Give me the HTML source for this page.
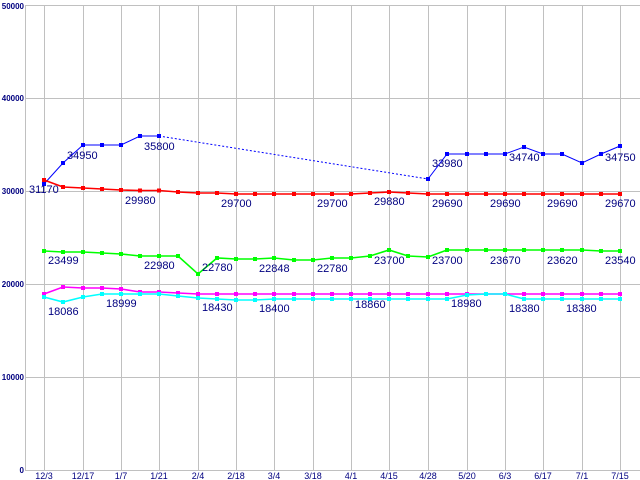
<!DOCTYPE html><html><head><style>body{margin:0;background:#fff}svg{display:block}text{font-family:"Liberation Sans",sans-serif}</style></head><body>
<svg width="640" height="480" xmlns="http://www.w3.org/2000/svg">
<defs>
<marker id="mr" markerUnits="userSpaceOnUse" markerWidth="6" markerHeight="6" refX="3" refY="3"><rect x="1" y="1" width="4" height="4" fill="#ff0000"/></marker>
<marker id="mg" markerUnits="userSpaceOnUse" markerWidth="6" markerHeight="6" refX="3" refY="3"><rect x="1" y="1" width="4" height="4" fill="#00ff00"/></marker>
<marker id="mm" markerUnits="userSpaceOnUse" markerWidth="6" markerHeight="6" refX="3" refY="3"><rect x="1" y="1" width="4" height="4" fill="#ff00ff"/></marker>
<marker id="mc" markerUnits="userSpaceOnUse" markerWidth="6" markerHeight="6" refX="3" refY="3"><rect x="1" y="1" width="4" height="4" fill="#00ffff"/></marker>
</defs>
<g stroke="#c0c0c0" stroke-width="1">
<line x1="26" y1="5.5" x2="640" y2="5.5"/><line x1="26" y1="98.5" x2="640" y2="98.5"/><line x1="26" y1="191.5" x2="640" y2="191.5"/><line x1="26" y1="284.5" x2="640" y2="284.5"/><line x1="26" y1="377.5" x2="640" y2="377.5"/>
<line x1="44.5" y1="5" x2="44.5" y2="471"/><line x1="83.5" y1="5" x2="83.5" y2="471"/><line x1="121.5" y1="5" x2="121.5" y2="471"/><line x1="159.5" y1="5" x2="159.5" y2="471"/><line x1="198.5" y1="5" x2="198.5" y2="471"/><line x1="236.5" y1="5" x2="236.5" y2="471"/><line x1="274.5" y1="5" x2="274.5" y2="471"/><line x1="313.5" y1="5" x2="313.5" y2="471"/><line x1="351.5" y1="5" x2="351.5" y2="471"/><line x1="389.5" y1="5" x2="389.5" y2="471"/><line x1="428.5" y1="5" x2="428.5" y2="471"/><line x1="467.5" y1="5" x2="467.5" y2="471"/><line x1="505.5" y1="5" x2="505.5" y2="471"/><line x1="543.5" y1="5" x2="543.5" y2="471"/><line x1="582.5" y1="5" x2="582.5" y2="471"/><line x1="620.5" y1="5" x2="620.5" y2="471"/>
<line x1="25.5" y1="5" x2="25.5" y2="471"/><line x1="25" y1="470.5" x2="640" y2="470.5"/>
</g>
<g font-size="8" font-weight="bold" fill="#000080" font-family="Liberation Mono,monospace" text-anchor="end">
<text x="24" y="9">50000</text><text x="24" y="101">40000</text><text x="24" y="194">30000</text><text x="24" y="287">20000</text><text x="24" y="380">10000</text><text x="24" y="473">0</text>
</g>
<g font-size="9" fill="#000080" text-anchor="middle">
<text x="44" y="479">12/3</text><text x="83" y="479">12/17</text><text x="121" y="479">1/7</text><text x="159" y="479">1/21</text><text x="198" y="479">2/4</text><text x="236" y="479">2/18</text><text x="274" y="479">3/4</text><text x="313" y="479">3/18</text><text x="351" y="479">4/1</text><text x="389" y="479">4/15</text><text x="428" y="479">4/28</text><text x="467" y="479">5/20</text><text x="505" y="479">6/3</text><text x="543" y="479">6/17</text><text x="582" y="479">7/1</text><text x="620" y="479">7/15</text>
</g>
<g fill="none" stroke-width="1">
<polyline stroke="#0000ff" points="44,184 63,163 83,145 102,145 121,145 140,136 159,136"/>
<polyline stroke="#0000ff" stroke-dasharray="2,2" points="159,136 428,179"/>
<polyline stroke="#0000ff" points="428,179 447,154 467,154 486,154 505,154 524,147 543,154 562,154 582,163 601,154 620,146"/>
</g>
<g fill="none" stroke-width="1.6">
<polyline stroke="#ff0000" marker-start="url(#mr)" marker-mid="url(#mr)" marker-end="url(#mr)" points="44,180 63,187 83,188 102,189 121,190 140,190.5 159,190.5 178,192 198,193 217,193 236,194 255,194 274,194 294,194 313,194 332,194 351,194 370,193 389,192 408,193 428,194 447,194 467,194 486,194 505,194 524,194 543,194 562,194 582,194 601,194 620,194"/>
<polyline stroke="#00ff00" marker-start="url(#mg)" marker-mid="url(#mg)" marker-end="url(#mg)" points="44,251 63,252 83,252 102,253 121,254 140,256 159,256 178,256 198,274 217,258 236,259 255,259 274,258 294,260 313,260 332,258 351,258 370,256 389,250 408,256 428,257 447,250 467,250 486,250 505,250 524,250 543,250 562,250 582,250 601,251 620,251"/>
<polyline stroke="#ff00ff" marker-start="url(#mm)" marker-mid="url(#mm)" marker-end="url(#mm)" points="44,294 63,287 83,288 102,288 121,289 140,292 159,292 178,293 198,294 217,294 236,294 255,294 274,294 294,294 313,294 332,294 351,294 370,294 389,294 408,294 428,294 447,294 467,294 486,294 505,294 524,294 543,294 562,294 582,294 601,294 620,294"/>
<polyline stroke="#00ffff" marker-start="url(#mc)" marker-mid="url(#mc)" marker-end="url(#mc)" points="44,297 63,302 83,297 102,294 121,294 140,294 159,294 178,296 198,298 217,299 236,300 255,300 274,299 294,299 313,299 332,299 351,299 370,299 389,299 408,299 428,299 447,299 467,295 486,294 505,294 524,299 543,299 562,299 582,299 601,299 620,299"/>
</g>
<g fill="#0000ff"><rect x="42" y="182" width="4" height="4"/><rect x="61" y="161" width="4" height="4"/><rect x="81" y="143" width="4" height="4"/><rect x="100" y="143" width="4" height="4"/><rect x="119" y="143" width="4" height="4"/><rect x="138" y="134" width="4" height="4"/><rect x="157" y="134" width="4" height="4"/><rect x="426" y="177" width="4" height="4"/><rect x="445" y="152" width="4" height="4"/><rect x="465" y="152" width="4" height="4"/><rect x="484" y="152" width="4" height="4"/><rect x="503" y="152" width="4" height="4"/><rect x="522" y="145" width="4" height="4"/><rect x="541" y="152" width="4" height="4"/><rect x="560" y="152" width="4" height="4"/><rect x="580" y="161" width="4" height="4"/><rect x="599" y="152" width="4" height="4"/><rect x="618" y="144" width="4" height="4"/></g>
<g font-size="11" fill="#000080">
<text x="29" y="193">31170</text><text x="67" y="159">34950</text><text x="144" y="150">35800</text><text x="432" y="167">33980</text><text x="509" y="161">34740</text><text x="605" y="161">34750</text>
<text x="125" y="204">29980</text><text x="221" y="207">29700</text><text x="317" y="207">29700</text><text x="374" y="205">29880</text><text x="432" y="207">29690</text><text x="490" y="207">29690</text><text x="547" y="207">29690</text><text x="605" y="207">29670</text>
<text x="48" y="264">23499</text><text x="144" y="269">22980</text><text x="202" y="271">22780</text><text x="259" y="272">22848</text><text x="317" y="272">22780</text><text x="374" y="264">23700</text><text x="432" y="264">23700</text><text x="490" y="264">23670</text><text x="547" y="264">23620</text><text x="605" y="264">23540</text>
<text x="48" y="315">18086</text><text x="106" y="307">18999</text><text x="202" y="311">18430</text><text x="259" y="312">18400</text><text x="355" y="308">18860</text><text x="451" y="307">18980</text><text x="509" y="312">18380</text><text x="566" y="312">18380</text>
</g>
</svg></body></html>
